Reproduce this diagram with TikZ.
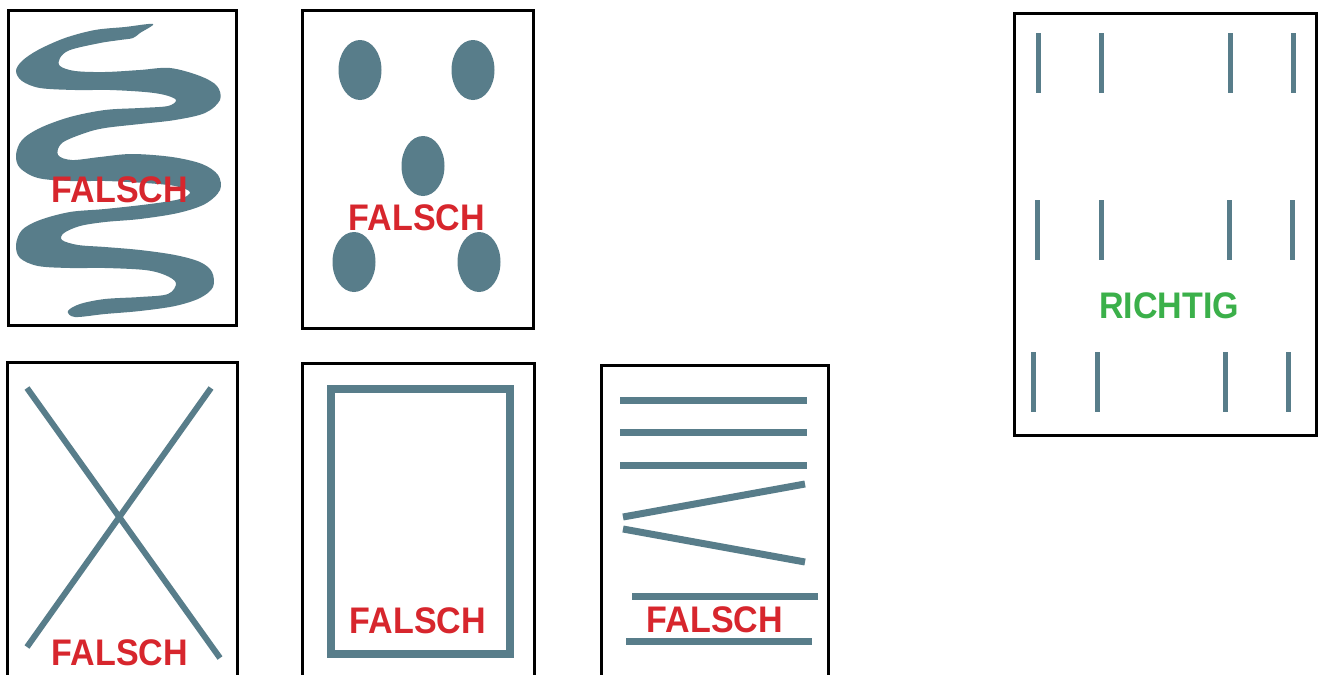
\documentclass[tikz,border=0pt]{standalone}
\usepackage{fontspec}
\newfontfamily\labelfont{Liberation Sans}[FakeStretch=0.92]
\definecolor{slate}{RGB}{88,125,138}
\definecolor{wrongred}{RGB}{215,38,45}
\definecolor{rightgreen}{RGB}{59,176,74}
\tikzset{
  frame/.style={draw=black, line width=3pt},
  bar/.style={draw=slate, line width=#1},
  bar/.default=6pt,
  blob/.style={fill=slate},
  verdict/.style={anchor=base, inner sep=0pt, font=\labelfont\bfseries\fontsize{37}{40}\selectfont},
  wrong/.style={verdict, text=wrongred},
  right/.style={verdict, text=rightgreen}
}
\begin{document}
\begin{tikzpicture}[x=1pt,y=-1pt]
\useasboundingbox (0,0) rectangle (1318,675);
\clip (0,0) rectangle (1318,675);
\fill[white] (0,0) rectangle (1318,675);

% ---------- Panel 1: serpentine band ----------
\draw[frame] (8,10) rectangle (236,325);
\fill[blob] plot[smooth cycle, tension=0.55] coordinates {
 (153,24) (125,27) (95,30) (65,38) (38,50) (22,61)
 (16,71) (22,81) (40,88)
 (75,90) (110,90) (145,92) (165,95)
 (176,100) (168,106)
 (140,108) (105,110) (70,117) (40,128)
 (22,140) (16,155) (20,168) (38,178)
 (70,181) (105,181) (145,183) (175,186)
 (190,192) (180,199)
 (150,204) (105,209) (70,212) (40,220)
 (22,230) (16,245) (20,258) (38,266)
 (70,268) (105,268) (145,270) (165,275)
 (176,283) (168,294)
 (140,297) (105,299) (80,304) (68,311)
 (75,317) (105,314) (140,311) (175,306) (200,298)
 (213,287) (212,272) (200,262)
 (175,255) (140,250) (105,247) (78,245)
 (62,240) (64,233)
 (80,226) (105,222) (140,219) (178,213)
 (205,204) (220,190) (218,175) (202,164)
 (172,157) (132,154) (100,157) (72,160)
 (58,155) (62,143)
 (85,133) (105,128) (140,124) (175,120)
 (205,113) (220,100) (217,86) (200,76)
 (170,68) (140,70) (105,72) (75,71)
 (60,66) (60,58) (70,50)
 (100,43) (120,40) (133,38) (140,33)
};
\node[wrong] (f1) at (120,202) {FALSCH};

% ---------- Panel 2: dots ----------
\draw[frame] (302,10) rectangle (533,328);
\fill[blob] (360,70) ellipse [x radius=21.5, y radius=30];
\fill[blob] (473,70) ellipse [x radius=21.5, y radius=30];
\fill[blob] (423,166) ellipse [x radius=21.5, y radius=30];
\fill[blob] (354,262) ellipse [x radius=21.5, y radius=30];
\fill[blob] (479,262) ellipse [x radius=21.5, y radius=30];
\node[wrong] (f2) at (417,230) {FALSCH};

% ---------- Panel 3: cross ----------
\draw[frame] (7,362) rectangle (237,700);
\coordinate (x1a) at (27,388);
\coordinate (x1b) at (220,658);
\coordinate (x2a) at (211,388);
\coordinate (x2b) at (27,647);
\draw[bar=6pt] (x1a) -- (x1b);
\draw[bar=6pt] (x2a) -- (x2b);
\node[wrong] (f3) at (120,665) {FALSCH};

% ---------- Panel 4: frame ----------
\draw[frame] (302,363) rectangle (534,700);
\draw[bar=8pt] (331,389) rectangle (510,654);
\node[wrong] (f4) at (418,633) {FALSCH};

% ---------- Panel 5: lines ----------
\draw[frame] (601,365) rectangle (828,700);
\draw[bar=7pt] (620,400) -- (807,400);
\draw[bar=7pt] (620,432) -- (807,432);
\draw[bar=7pt] (620,465) -- (807,465);
\draw[bar=7pt] (623,517) -- (805,484);
\draw[bar=7pt] (623,529) -- (805,562);
\draw[bar=7pt] (632,596) -- (818,596);
\draw[bar=7pt] (626,641) -- (812,641);
\node[wrong] (f5) at (715,632) {FALSCH};

% ---------- Panel 6: correct ----------
\draw[frame] (1014,13) rectangle (1316,435);
\foreach \x in {1038,1101,1230,1293} \draw[bar=5pt] (\x,33) -- (\x,93);
\foreach \x in {1037,1101,1229,1292} \draw[bar=5pt] (\x,200) -- (\x,260);
\foreach \x in {1033,1097,1225,1288} \draw[bar=5pt] (\x,352) -- (\x,412);
\node[right] (r6) at (1169,318) {RICHTIG};
\end{tikzpicture}
\end{document}
